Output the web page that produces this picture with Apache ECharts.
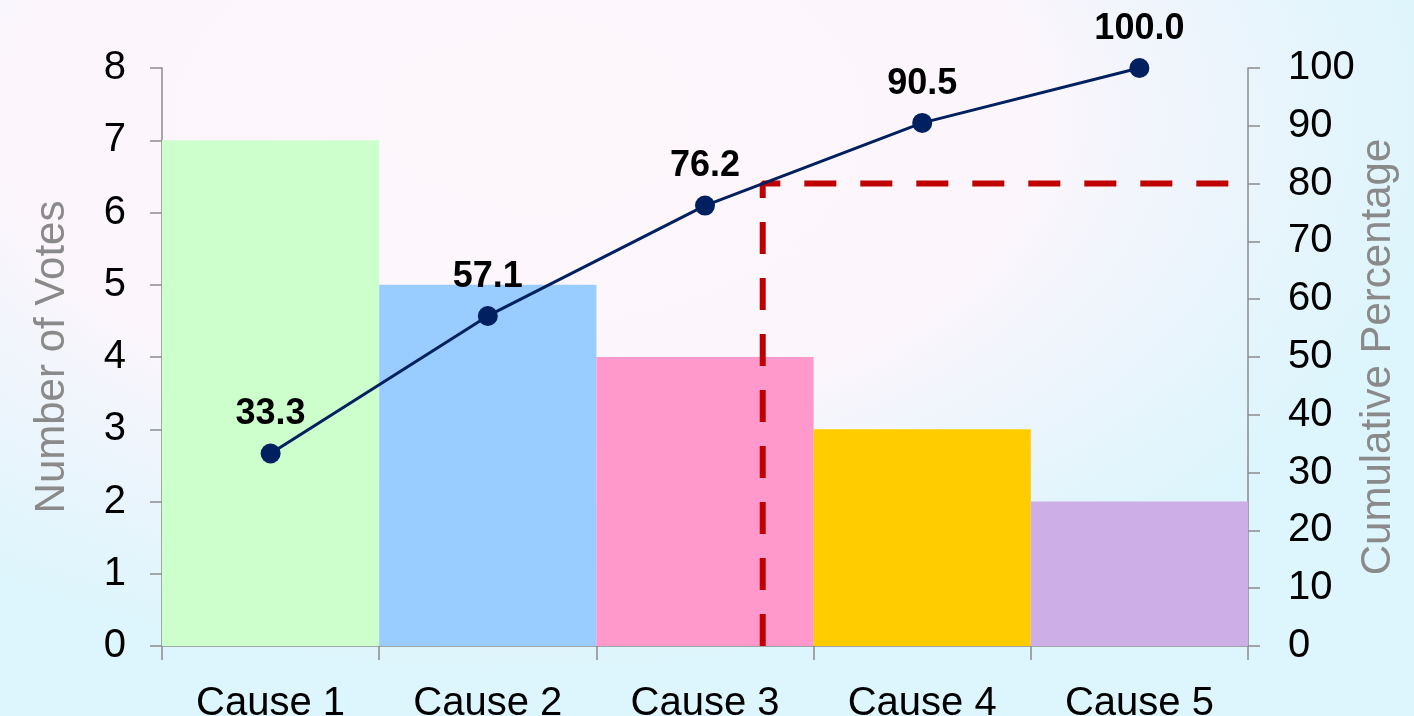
<!DOCTYPE html>
<html>
<head>
<meta charset="utf-8">
<script src="https://cdn.jsdelivr.net/npm/echarts@6/dist/echarts.min.js"></script>
<style>
  html, body { margin: 0; padding: 0; width: 1414px; height: 716px; overflow: hidden; }
  body {
    background:
      radial-gradient(ellipse 980px 580px at 520px 120px, rgba(253,247,252,1) 0%, rgba(252,246,252,1) 52%, rgba(240,244,252,0.7) 74%, rgba(222,245,252,0) 95%),
      #ddf5fc;
  }
  #chart { width: 1414px; height: 716px; }
</style>
</head>
<body>
<div id="chart"></div>
<script>
// Pareto data: votes per cause and running cumulative percentage
const categories = ['Cause 1', 'Cause 2', 'Cause 3', 'Cause 4', 'Cause 5'];
const votes = [7, 5, 4, 3, 2];
const cumulative = [33.3, 57.1, 76.2, 90.5, 100.0];
const threshold = 80;

const barColors = ['#ccffcc', '#99ccff', '#ff99cc', '#ffcc00', '#cdaee6'];

// Find where the cumulative curve reaches the threshold, in band units (0..5)
function crossingPosition() {
  for (let i = 0; i < cumulative.length - 1; i++) {
    if (cumulative[i] <= threshold && cumulative[i + 1] >= threshold) {
      const t = (threshold - cumulative[i]) / (cumulative[i + 1] - cumulative[i]);
      return i + 0.5 + t;
    }
  }
  return 0;
}
const cross = crossingPosition();
const thresholdPath = [[cross, 0], [cross, threshold], [categories.length, threshold]];

const font = '"Liberation Sans", Arial, sans-serif';
const axisGray = '#8c8c8c';

const chart = echarts.init(document.getElementById('chart'), null, { renderer: 'canvas' });
chart.setOption({
  backgroundColor: 'transparent',
  animation: false,
  grid: {
    left: 162, right: 166, top: 68, bottom: 70,
    containLabel: false,
    outerBoundsMode: 'none'
  },
  xAxis: [
    {
      type: 'category',
      data: categories,
      axisLine: { lineStyle: { color: axisGray, width: 1.5 } },
      axisTick: { show: true, length: 14, lineStyle: { color: axisGray, width: 1.5 } },
      axisLabel: { color: '#000', fontSize: 40, fontFamily: font, margin: 38 }
    },
    {
      type: 'value',
      min: 0,
      max: categories.length,
      show: false
    }
  ],
  yAxis: [
    {
      type: 'value',
      min: 0,
      max: 8,
      interval: 1,
      name: 'Number of Votes',
      nameLocation: 'middle',
      nameRotate: 90,
      nameGap: 89,
      nameMoveOverlap: false,
      nameTextStyle: { color: '#8a8a8a', fontSize: 42, fontFamily: font },
      axisLine: { show: true, lineStyle: { color: axisGray, width: 1.5 } },
      axisTick: { show: true, length: 12, lineStyle: { color: axisGray, width: 1.5 } },
      axisLabel: { color: '#000', fontSize: 40, fontFamily: font, margin: 36 },
      splitLine: { show: false }
    },
    {
      type: 'value',
      min: 0,
      max: 100,
      interval: 10,
      position: 'right',
      name: 'Cumulative Percentage',
      nameLocation: 'middle',
      nameRotate: 90,
      nameGap: 109,
      nameMoveOverlap: false,
      nameTextStyle: { color: '#8a8a8a', fontSize: 42, fontFamily: font },
      axisLine: { show: true, lineStyle: { color: axisGray, width: 1.5 } },
      axisTick: { show: true, length: 12, lineStyle: { color: axisGray, width: 1.5 } },
      axisLabel: { color: '#000', fontSize: 40, fontFamily: font, margin: 40 },
      splitLine: { show: false }
    }
  ],
  series: [
    {
      name: 'Votes',
      type: 'bar',
      xAxisIndex: 0,
      yAxisIndex: 0,
      barCategoryGap: 0,
      z: 1,
      data: votes.map((v, i) => ({ value: v, itemStyle: { color: barColors[i] } }))
    },
    {
      name: '80% cut-off',
      type: 'line',
      xAxisIndex: 1,
      yAxisIndex: 1,
      data: thresholdPath,
      symbol: 'none',
      z: 3,
      lineStyle: { color: '#c00000', width: 6, type: [32, 24], cap: 'butt' }
    },
    {
      name: 'Cumulative %',
      type: 'line',
      xAxisIndex: 0,
      yAxisIndex: 1,
      data: cumulative,
      symbol: 'circle',
      symbolSize: 20,
      z: 5,
      itemStyle: { color: '#002060' },
      lineStyle: { color: '#002060', width: 3 },
      label: {
        show: true,
        position: 'top',
        distance: 11,
        color: '#000',
        fontSize: 36,
        fontWeight: 'bold',
        fontFamily: font,
        formatter: p => p.value.toFixed(1)
      }
    }
  ]
});
</script>
</body>
</html>
